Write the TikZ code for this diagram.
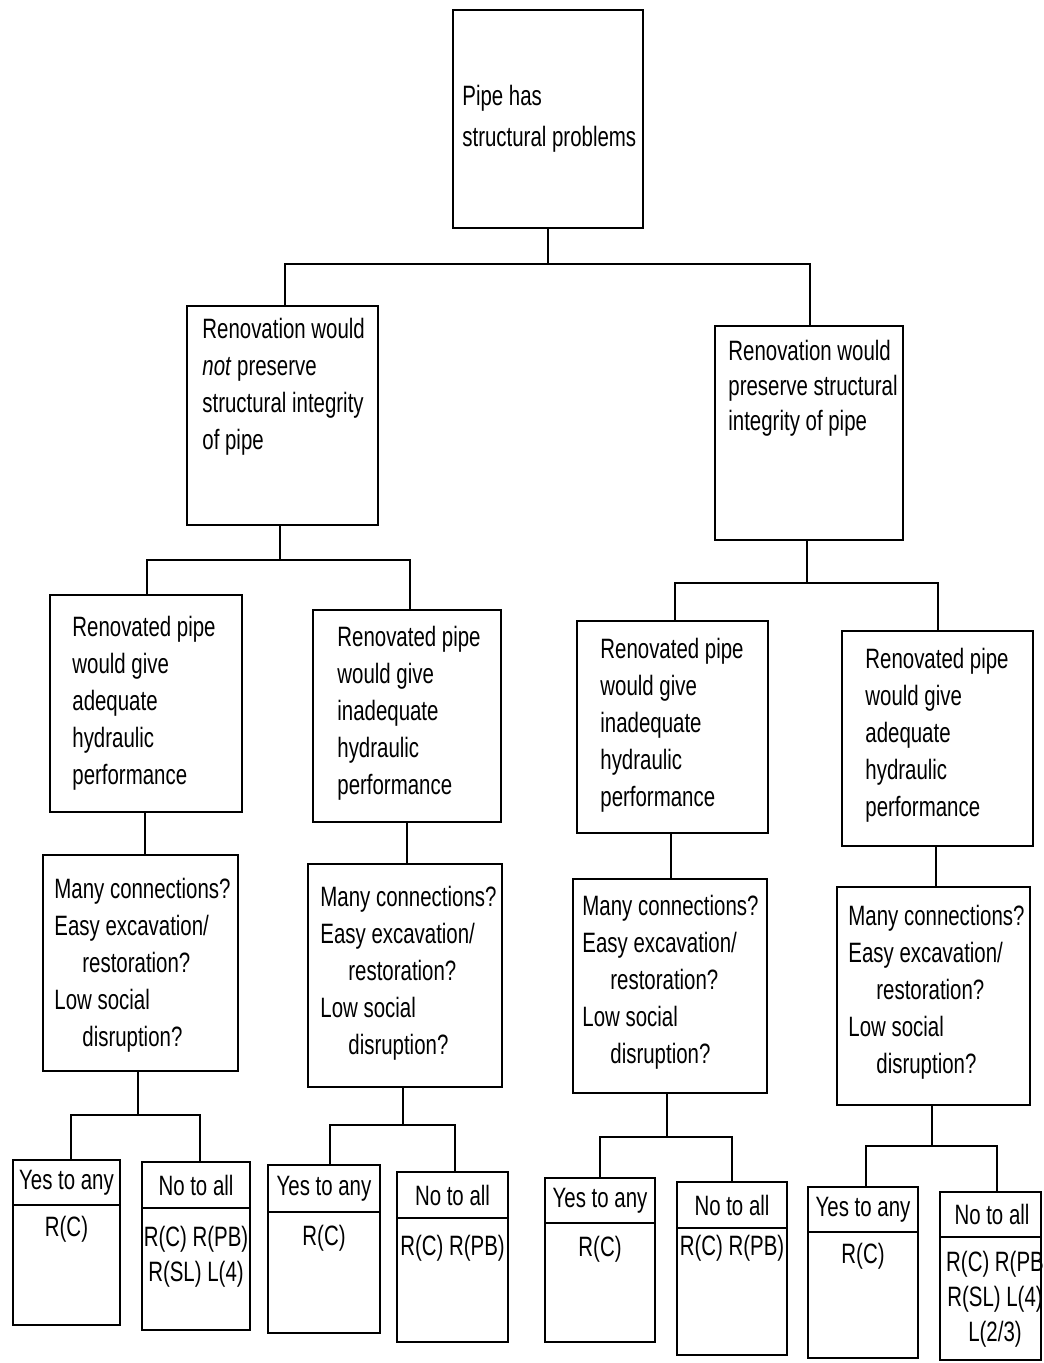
\documentclass[tikz,border=0pt]{standalone}
\usepackage{fontspec}
\setmainfont{Liberation Sans}[FakeStretch=0.73]
\usetikzlibrary{fit}
\newcommand\qtext{Many connections?\\Easy excavation/\\\hspace*{14pt}restoration?\\Low social\\\hspace*{14pt}disruption?}
\begin{document}
\begin{tikzpicture}[x=0.5pt,y=-0.5pt,
  box/.style={draw, line width=1.3pt, inner sep=0pt},
  wire/.style={line width=1.1pt},
  txt/.style={anchor=north west, inner sep=0pt, align=left, font=\fontsize{14}{18.5}\selectfont},
  ans/.style={inner sep=0pt, align=center, font=\fontsize{14}{17.5}\selectfont}]
\useasboundingbox (0,0) rectangle (1043,1363);
\fill[white] (0,0) rectangle (1043,1363);

% level 1
\node[box, fit={(453,10) (643,228)}] (top) {};
\node[txt, font=\fontsize{14}{20.5}\selectfont] (topT) at (462,85) {Pipe has\\structural problems};

% level 2
\node[box, fit={(187,306) (378,525)}] (l2a) {};
\node[txt] (l2aT) at (202,318) {Renovation would\\\textit{not} preserve\\structural integrity\\of pipe};
\node[box, fit={(715,326) (903,540)}] (l2b) {};
\node[txt, font=\fontsize{14}{17.5}\selectfont] (l2bT) at (728,340) {Renovation would\\preserve structural\\integrity of pipe};

% level 3
\node[box, fit={(50,595) (242,812)}] (l3a) {};
\node[txt] (l3aT) at (72,616) {Renovated pipe\\would give\\adequate\\hydraulic\\performance};
\node[box, fit={(313,610) (501,822)}] (l3b) {};
\node[txt] (l3bT) at (337,626) {Renovated pipe\\would give\\inadequate\\hydraulic\\performance};
\node[box, fit={(577,621) (768,833)}] (l3c) {};
\node[txt] (l3cT) at (600,638) {Renovated pipe\\would give\\inadequate\\hydraulic\\performance};
\node[box, fit={(842,631) (1033,846)}] (l3d) {};
\node[txt] (l3dT) at (865,648) {Renovated pipe\\would give\\adequate\\hydraulic\\performance};

% level 4
\node[box, fit={(43,855) (238,1071)}] (qa) {};
\node[txt] (qaT) at (54,878) {\qtext};
\node[box, fit={(308,864) (502,1087)}] (qb) {};
\node[txt] (qbT) at (320,886) {\qtext};
\node[box, fit={(573,879) (767,1093)}] (qc) {};
\node[txt] (qcT) at (582,895) {\qtext};
\node[box, fit={(837,887) (1030,1105)}] (qd) {};
\node[txt] (qdT) at (848,905) {\qtext};

% level 5
\node[box, fit={(13,1160) (120,1205)}] (a1h) {};
\node[box, fit={(13,1205) (120,1325)}] (a1b) {};
\node[ans] (a1hT) at (a1h) {Yes to any};
\node[ans, anchor=north] (a1bT) at (66.5,1216) {R(C)};

\node[box, fit={(142,1162) (250,1208)}] (a2h) {};
\node[box, fit={(142,1208) (250,1330)}] (a2b) {};
\node[ans] (a2hT) at (a2h) {No to all};
\node[ans, anchor=north] (a2bT) at (196,1226) {R(C) R(PB)\\R(SL) L(4)};

\node[box, fit={(268,1165) (380,1212)}] (b1h) {};
\node[box, fit={(268,1212) (380,1333)}] (b1b) {};
\node[ans] (b1hT) at (b1h) {Yes to any};
\node[ans, anchor=north] (b1bT) at (324,1225) {R(C)};

\node[box, fit={(397,1172) (508,1218)}] (b2h) {};
\node[box, fit={(397,1218) (508,1342)}] (b2b) {};
\node[ans] (b2hT) at (b2h) {No to all};
\node[ans, anchor=north] (b2bT) at (452.5,1235) {R(C) R(PB)};

\node[box, fit={(545,1178) (655,1223)}] (c1h) {};
\node[box, fit={(545,1223) (655,1342)}] (c1b) {};
\node[ans] (c1hT) at (c1h) {Yes to any};
\node[ans, anchor=north] (c1bT) at (600,1236) {R(C)};

\node[box, fit={(677,1182) (787,1228)}] (c2h) {};
\node[box, fit={(677,1228) (787,1355)}] (c2b) {};
\node[ans] (c2hT) at (c2h) {No to all};
\node[ans, anchor=north] (c2bT) at (732,1235) {R(C) R(PB)};

\node[box, fit={(808,1187) (918,1232)}] (d1h) {};
\node[box, fit={(808,1232) (918,1358)}] (d1b) {};
\node[ans] (d1hT) at (d1h) {Yes to any};
\node[ans, anchor=north] (d1bT) at (863,1243) {R(C)};

\node[box, fit={(940,1192) (1041,1237)}] (d2h) {};
\node[box, fit={(940,1237) (1041,1360)}] (d2b) {};
\node[ans] (d2hT) at (992,1214.5) {No to all};
\node[ans, anchor=north] (d2bT) at (995,1251) {R(C) R(PB\\R(SL) L(4)\\L(2/3)};

% connectors
\draw[wire] (top.south) -- (top.south |- 0,264);
\draw[wire] (l2a.north -| 285,0) -- (285,264) -- (810,264) -- (l2b.north -| 810,0);

\draw[wire] (l2a.south -| 280,0) -- (280,560);
\draw[wire] (l3a.north -| 147,0) -- (147,560) -- (410,560) -- (l3b.north -| 410,0);

\draw[wire] (l2b.south -| 807,0) -- (807,583);
\draw[wire] (l3c.north -| 675,0) -- (675,583) -- (938,583) -- (l3d.north -| 938,0);

\draw[wire] (l3a.south -| 145,0) -- (qa.north -| 145,0);
\draw[wire] (l3b.south -| 407,0) -- (qb.north -| 407,0);
\draw[wire] (l3c.south -| 671,0) -- (qc.north -| 671,0);
\draw[wire] (l3d.south -| 936,0) -- (qd.north -| 936,0);

\draw[wire] (qa.south -| 138,0) -- (138,1115);
\draw[wire] (a1h.north -| 71,0) -- (71,1115) -- (200,1115) -- (a2h.north -| 200,0);

\draw[wire] (qb.south -| 403,0) -- (403,1125);
\draw[wire] (b1h.north -| 330,0) -- (330,1125) -- (455,1125) -- (b2h.north -| 455,0);

\draw[wire] (qc.south -| 667,0) -- (667,1137);
\draw[wire] (c1h.north -| 600,0) -- (600,1137) -- (732,1137) -- (c2h.north -| 732,0);

\draw[wire] (qd.south -| 932,0) -- (932,1146);
\draw[wire] (d1h.north -| 866,0) -- (866,1146) -- (997,1146) -- (d2h.north -| 997,0);
\end{tikzpicture}
\end{document}
